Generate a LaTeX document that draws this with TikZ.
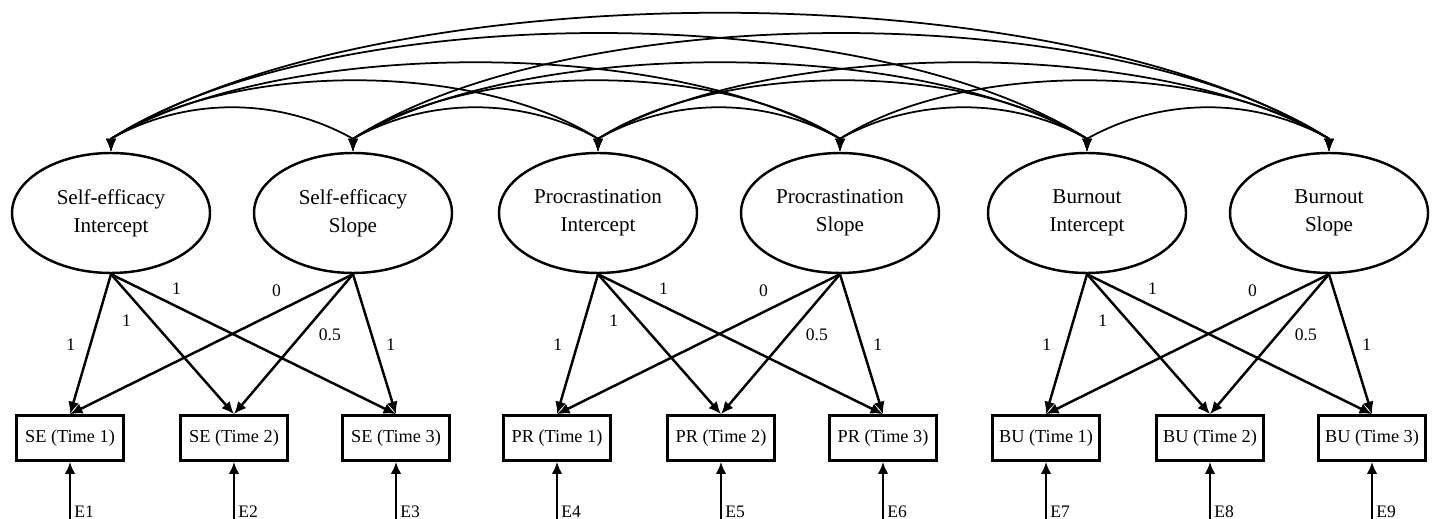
\documentclass[tikz,border=0pt]{standalone}
\usepackage{fontspec}
\setmainfont{Liberation Serif}
\usetikzlibrary{arrows.meta, shapes.geometric}

\tikzset{
  latent/.style={draw, ellipse, line width=1.4pt, minimum width=39.6mm, minimum height=24mm,
    align=center, font=\fontsize{12}{16}\selectfont},
  observed/.style={draw, rectangle, line width=1.5pt, minimum width=21.4mm, minimum height=9mm,
    inner sep=1pt, font=\fontsize{10.4}{12}\selectfont},
  loading/.style={line width=1.4pt, -{Latex[length=2.5mm, width=2.2mm]}},
  error/.style={line width=1.5pt, -{Latex[length=2.4mm, width=2.1mm]}},
  corr/.style={line width=1pt, {Latex[length=2.6mm, width=2mm]}-{Latex[length=2.6mm, width=2mm]}},
  coef/.style={font=\fontsize{10}{12}\selectfont, inner sep=2pt},
  elabel/.style={font=\fontsize{10}{12}\selectfont, inner sep=0pt},
}

\begin{document}
\begin{tikzpicture}[x=0.2mm, y=0.2mm]
    \useasboundingbox (0,0) rectangle (1437,519);

    % one block per construct: intercept, slope, three waves
    \foreach \p/\name/\abbr/\dx/\eo in {se/Self-efficacy/SE/0/0, pr/Procrastination/PR/487/3, bu/Burnout/BU/976/6}{
        \node[latent] (\p i) at (\dx+111,306) {\name\\Intercept};
        \node[latent] (\p s) at (\dx+353,306) {\name\\Slope};

        % measured variables with residuals
        \foreach \t/\bx in {1/70, 2/234, 3/396}{
            \pgfmathtruncatemacro{\en}{\eo+\t}
            \node[observed] (\p\t) at (\dx+\bx,81) {\abbr{} (Time \t)};
            \coordinate (\p e\t) at (\dx+\bx,0);
            \node[elabel, anchor=base west] (E\en) at ([shift={(4,1)}]\p e\t) {E\en};
            \draw[error] (\p e\t) -- (\p\t);
        }

        % fixed loadings
        \draw[loading] (\p i.south) -- node[coef, left=6pt] {1} (\p 1.north);
        \draw[loading] (\p i.south) -- node[coef, pos=0.33, left=9pt] {1} (\p 2.north);
        \draw[loading] (\p i.south) -- node[coef, pos=0.23, above=4pt] {1} (\p 3.north);
        \draw[loading] (\p s.south) -- node[coef, pos=0.27, above=6pt] {0} (\p 1.north);
        \draw[loading] (\p s.south) -- node[coef, pos=0.43, right=7pt] {0.5} (\p 2.north);
        \draw[loading] (\p s.south) -- node[coef, right=4pt] {1} (\p 3.north);
    }

    % covariances among all growth factors (heads point straight down)
    \foreach \a/\b/\k/\c in {sei/ses/42/75, ses/pri/42/75, pri/prs/42/75, prs/bui/42/75, bui/bus/42/75,
            sei/pri/78/122, ses/prs/78/122, pri/bui/78/122, prs/bus/78/122,
            sei/prs/102/171, ses/bui/102/171, pri/bus/102/171,
            sei/bui/141/220, ses/bus/141/220, sei/bus/168/270}
        \draw[corr] (\a.north) -- ++(0,13) .. controls +(\c,\k) and +(-\c,\k) .. ([yshift=2.6mm]\b.north) -- (\b.north);
\end{tikzpicture}
\end{document}
